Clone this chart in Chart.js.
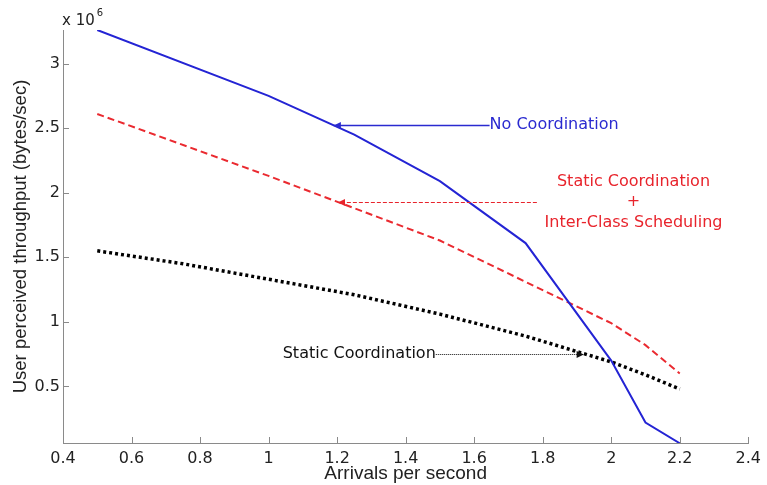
<!DOCTYPE html>
<html>
<head>
<meta charset="utf-8">
<script src="https://cdn.jsdelivr.net/npm/chart.js@4.4.1/dist/chart.umd.min.js"></script>
<style>
  html, body { margin: 0; padding: 0; background: #fff; }
  #wrap { width: 767px; height: 485px; }
</style>
</head>
<body>
<div id="wrap"><canvas id="throughputChart"></canvas></div>
<script>
// arrivals per second / throughput in units of 10^6 bytes/sec
const noCoordX = [0.5, 1.0, 1.25, 1.5, 1.75, 2.0, 2.1, 2.2];
const noCoordY = [3.26, 2.75, 2.45, 2.09, 1.61, 0.70, 0.22, 0.06];

const staticSchedX = [0.5, 1.0, 1.5, 1.75, 2.0, 2.1, 2.2];
const staticSchedY = [2.61, 2.13, 1.63, 1.31, 0.99, 0.82, 0.60];

const staticX = [0.5, 0.75, 1.0, 1.25, 1.5, 1.75, 2.0, 2.1, 2.2];
const staticY = [1.55, 1.45, 1.33, 1.21, 1.06, 0.89, 0.69, 0.59, 0.48];

const xTicks = [0.4, 0.6, 0.8, 1.0, 1.2, 1.4, 1.6, 1.8, 2.0, 2.2, 2.4];
const yTicks = [0.5, 1.0, 1.5, 2.0, 2.5, 3.0];

const FONT = "'Liberation Sans', Arial, Helvetica, sans-serif";
const NARROW_FONT = "'Liberation Sans Narrow', 'Arial Narrow', 'Liberation Sans', sans-serif";
const WIDE_FONT = "'DejaVu Sans', Verdana, sans-serif";
const AXIS_GRAY = '#8a8a8a';

function toPoints(xs, ys) {
    return xs.map((x, i) => ({ x: x, y: ys[i] }));
}

// text callouts with arrows, given in data coordinates
const callouts = [
    { lines: ['No Coordination'], color: '#2a2ad0', textX: 1.645, textY: 2.523, align: 'left',
      from: [1.645, 2.523], to: [1.19, 2.523], dash: [], width: 1.5 },
    { lines: ['Static Coordination', '+', 'Inter-Class Scheduling'], color: '#e8242c', textX: 2.065, textY: 1.926, align: 'center',
      from: [1.783, 1.926], to: [1.202, 1.926], dash: [4, 2], width: 1.2 },
    { lines: ['Static Coordination'], color: '#111', textX: 1.488, textY: 0.749, align: 'right',
      from: [1.488, 0.749], to: [1.92, 0.749], dash: [1, 1], width: 1 }
];

function arrowHead(ctx, x1, y1, x2, y2, size) {
    const a = Math.atan2(y2 - y1, x2 - x1);
    ctx.beginPath();
    ctx.moveTo(x2, y2);
    ctx.lineTo(x2 - size * Math.cos(a - 0.45), y2 - size * Math.sin(a - 0.45));
    ctx.lineTo(x2 - size * Math.cos(a + 0.45), y2 - size * Math.sin(a + 0.45));
    ctx.closePath();
    ctx.fill();
}

const matlabAxes = {
    id: 'matlabAxes',
    afterDatasetsDraw(chart) {
        const ctx = chart.ctx;
        const xs = chart.scales.x;
        const ys = chart.scales.y;
        const area = chart.chartArea;

        // inward tick marks
        ctx.save();
        ctx.strokeStyle = AXIS_GRAY;
        ctx.lineWidth = 1;
        ctx.beginPath();
        xs.ticks.forEach(t => {
            const px = Math.round(xs.getPixelForValue(t.value)) + 0.5;
            ctx.moveTo(px, area.bottom);
            ctx.lineTo(px, area.bottom - 6);
        });
        ys.ticks.forEach(t => {
            const py = Math.round(ys.getPixelForValue(t.value)) + 0.5;
            ctx.moveTo(area.left, py);
            ctx.lineTo(area.left + 6, py);
        });
        ctx.stroke();

        // exponent label above the y axis
        ctx.fillStyle = '#222';
        ctx.textBaseline = 'alphabetic';
        ctx.textAlign = 'left';
        ctx.font = '15px ' + WIDE_FONT;
        ctx.fillText('x 10', area.left - 1, 25);
        const w = ctx.measureText('x 10').width;
        ctx.font = '10px ' + WIDE_FONT;
        ctx.fillText('6', area.left + w + 1, 16);

        // callouts
        callouts.forEach(c => {
            const x1 = xs.getPixelForValue(c.from[0]);
            const y1 = Math.round(ys.getPixelForValue(c.from[1])) + 0.5;
            const x2 = xs.getPixelForValue(c.to[0]);
            ctx.strokeStyle = c.color;
            ctx.fillStyle = c.color;
            ctx.lineWidth = c.width;
            ctx.setLineDash(c.dash);
            ctx.beginPath();
            ctx.moveTo(x1, y1);
            ctx.lineTo(x2, y1);
            ctx.stroke();
            ctx.setLineDash([]);
            arrowHead(ctx, x1, y1, x2, y1, 8);

            ctx.font = '16px ' + WIDE_FONT;
            ctx.textAlign = c.align;
            ctx.textBaseline = 'middle';
            const tx = xs.getPixelForValue(c.textX);
            const ty = ys.getPixelForValue(c.textY);
            const n = c.lines.length;
            c.lines.forEach((line, i) => {
                ctx.fillText(line, tx, ty + (i - (n - 1) / 2) * 20.5);
            });
        });
        ctx.restore();
    }
};

new Chart(document.getElementById('throughputChart'), {
    type: 'line',
    data: {
        datasets: [{
            label: 'No Coordination',
            data: toPoints(noCoordX, noCoordY),
            borderColor: '#2424d4',
            borderWidth: 2,
            pointRadius: 0,
            tension: 0
        }, {
            label: 'Static Coordination + Inter-Class Scheduling',
            data: toPoints(staticSchedX, staticSchedY),
            borderColor: '#ea2a30',
            borderWidth: 2,
            borderDash: [7, 4],
            pointRadius: 0,
            tension: 0
        }, {
            label: 'Static Coordination',
            data: toPoints(staticX, staticY),
            borderColor: '#000',
            borderWidth: 3.5,
            borderDash: [3, 3],
            borderCapStyle: 'butt',
            pointRadius: 0,
            tension: 0
        }]
    },
    options: {
        responsive: true,
        maintainAspectRatio: false,
        animation: false,
        layout: { padding: { top: 30, right: 13, left: 0, bottom: 0 } },
        plugins: {
            legend: { display: false },
            tooltip: { enabled: false }
        },
        scales: {
            x: {
                type: 'linear',
                min: 0.4,
                max: 2.4,
                afterBuildTicks: scale => { scale.ticks = xTicks.map(v => ({ value: v })); },
                afterFit: scale => { scale.height = 42; },
                grid: { display: false, drawTicks: false },
                border: { display: true, color: AXIS_GRAY, width: 1 },
                ticks: {
                    padding: 6,
                    color: '#222',
                    maxRotation: 0,
                    font: { family: WIDE_FONT, size: 16 },
                    callback: v => String(Math.round(v * 10) / 10)
                },
                title: {
                    display: true,
                    text: 'Arrivals per second',
                    color: '#222',
                    padding: { top: 0, bottom: 0 },
                    font: { family: NARROW_FONT, size: 19 }
                }
            },
            y: {
                type: 'linear',
                min: 0.062,
                max: 3.26,
                afterBuildTicks: scale => { scale.ticks = yTicks.map(v => ({ value: v })); },
                afterFit: scale => { scale.width = 63; },
                grid: { display: false, drawTicks: false },
                border: { display: true, color: AXIS_GRAY, width: 1 },
                ticks: {
                    padding: 3,
                    color: '#222',
                    font: { family: WIDE_FONT, size: 16 },
                    callback: v => String(v)
                },
                title: {
                    display: true,
                    text: 'User perceived throughput (bytes/sec)',
                    color: '#222',
                    padding: { top: 10, bottom: 0 },
                    font: { family: FONT, size: 18.5 }
                }
            }
        }
    },
    plugins: [matlabAxes]
});
</script>
</body>
</html>
